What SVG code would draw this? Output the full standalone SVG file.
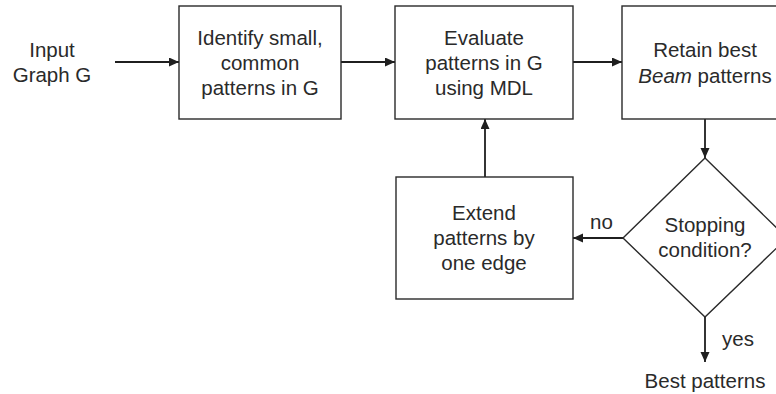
<svg xmlns="http://www.w3.org/2000/svg" width="776" height="394" viewBox="0 0 776 394">
  <defs>
    <marker id="arrow" markerUnits="userSpaceOnUse" markerWidth="11" markerHeight="10" refX="10" refY="4.5" orient="auto">
      <path d="M0,0 L10,4.5 L0,9 z" fill="#1f1f1f"/>
    </marker>
    <style>
      .box { fill: #ffffff; stroke: #2a2a2a; stroke-width: 1.4; }
      .edge { fill: none; stroke: #1f1f1f; stroke-width: 1.8; marker-end: url(#arrow); }
      text { font-family: "Liberation Sans", Arial, sans-serif; font-size: 20.5px; fill: #2a2a2a; text-anchor: middle; }
      .lbl { text-anchor: start; }
    </style>
  </defs>
  <rect width="776" height="394" fill="#ffffff"/>

  <!-- connectors -->
  <g id="connectors">
    <line class="edge" x1="115" y1="62" x2="179" y2="62"/>
    <line class="edge" x1="341" y1="62" x2="395" y2="62"/>
    <line class="edge" x1="573" y1="62" x2="622" y2="62"/>
    <line class="edge" x1="705" y1="119" x2="705" y2="158"/>
    <line class="edge" x1="485" y1="177" x2="485" y2="119"/>
    <line class="edge" x1="623" y1="238" x2="573" y2="238"/>
    <line class="edge" x1="705" y1="317" x2="705" y2="362"/>
    <text class="lbl" x="590" y="229">no</text>
    <text class="lbl" x="722" y="346">yes</text>
  </g>

  <g id="input">
    <text x="52" y="57">Input</text>
    <text x="52" y="82">Graph G</text>
  </g>

  <g id="identify">
    <rect class="box" x="179" y="6" width="162" height="113"/>
    <text x="260" y="45">Identify small,</text>
    <text x="260" y="70">common</text>
    <text x="260" y="95">patterns in G</text>
  </g>

  <g id="evaluate">
    <rect class="box" x="395" y="6" width="178" height="113"/>
    <text x="484" y="45">Evaluate</text>
    <text x="484" y="70">patterns in G</text>
    <text x="484" y="95">using MDL</text>
  </g>

  <g id="retain">
    <rect class="box" x="622" y="6" width="166" height="113"/>
    <text x="705" y="57">Retain best</text>
    <text x="705" y="83"><tspan font-style="italic">Beam</tspan> patterns</text>
  </g>

  <g id="stopping">
    <polygon class="box" points="705,158 787,238 705,317 623,238"/>
    <text x="705" y="232">Stopping</text>
    <text x="705" y="257">condition?</text>
  </g>

  <g id="extend">
    <rect class="box" x="396" y="177" width="177" height="122"/>
    <text x="484" y="220">Extend</text>
    <text x="484" y="245">patterns by</text>
    <text x="484" y="270">one edge</text>
  </g>

  <g id="best">
    <text x="705" y="388">Best patterns</text>
  </g>
</svg>
